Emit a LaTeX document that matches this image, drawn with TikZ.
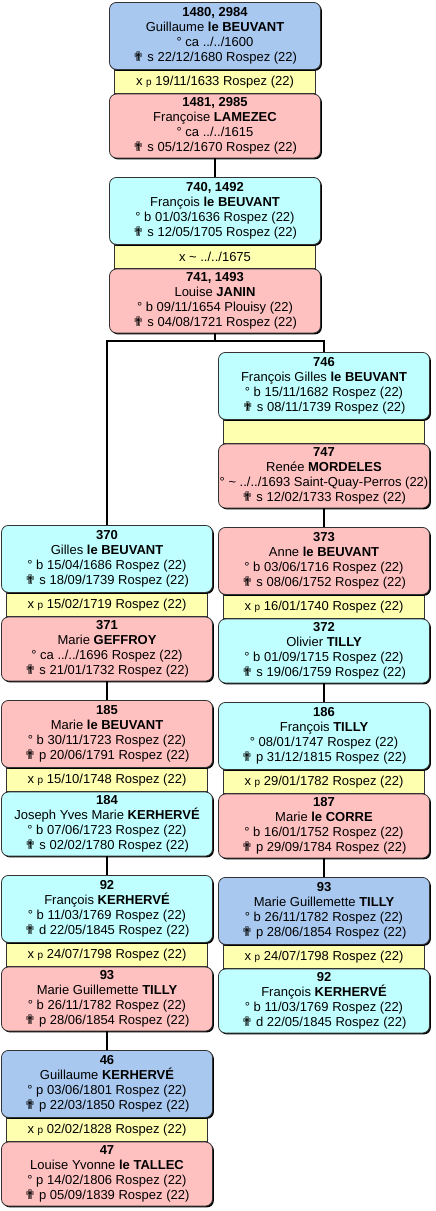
\documentclass[tikz,border=0pt]{standalone}
\usepackage{fontspec}
\setmainfont{Liberation Sans}
\newfontfamily\crossfont{DejaVu Sans}
\usepackage{xcolor}
\usepackage{tikz}
\usetikzlibrary{positioning,shadows,backgrounds}
\definecolor{malebox}{RGB}{192,255,255}
\definecolor{femalebox}{RGB}{255,192,192}
\definecolor{rootbox}{RGB}{168,200,240}
\definecolor{bandbox}{RGB}{255,255,176}
\newcommand{\dcross}{{\crossfont\fontsize{13}{15}\selectfont ✟}}
\newcommand{\wedp}[1]{x {\fontsize{10}{15}\selectfont p} #1}

\begin{document}
\begin{tikzpicture}[x=1pt,y=-1pt]
\tikzstyle{pbox}=[draw=black!80,line width=0.8pt,rounded corners=7pt,minimum width=211pt,minimum height=67pt,inner sep=0pt,align=center,anchor=north,font=\fontsize{13}{15}\selectfont,drop shadow={shadow xshift=1.4pt,shadow yshift=-1.4pt,fill=black,opacity=1}]
\tikzstyle{lbox}=[pbox,minimum height=64pt]
\tikzstyle{band}=[draw=black!80,line width=0.8pt,fill=bandbox,minimum width=201pt,minimum height=23pt,inner sep=0pt,font=\fontsize{13}{15}\selectfont]
\tikzstyle{link}=[line width=1.6pt]
\useasboundingbox (0,0) rectangle (436,1211);

% top generations
\node[pbox,fill=rootbox] (p1480) at (215,2) {\textbf{1480, 2984}\\Guillaume \textbf{le BEUVANT}\\° ca ../../1600\\\dcross{} s 22/12/1680 Rospez (22)};
\begin{scope}[on background layer]
\node[band,below=0pt of p1480] (m1480) {\wedp{19/11/1633 Rospez (22)}};
\end{scope}
\node[lbox,fill=femalebox,below=0pt of m1480] (p1481) {\textbf{1481, 2985}\\Françoise \textbf{LAMEZEC}\\° ca ../../1615\\\dcross{} s 05/12/1670 Rospez (22)};

\node[pbox,fill=malebox] (p740) at (215,177) {\textbf{740, 1492}\\François \textbf{le BEUVANT}\\° b 01/03/1636 Rospez (22)\\\dcross{} s 12/05/1705 Rospez (22)};
\begin{scope}[on background layer]
\node[band,below=0pt of p740] (m740) {x \textasciitilde{} ../../1675};
\end{scope}
\node[lbox,fill=femalebox,below=0pt of m740] (p741) {\textbf{741, 1493}\\Louise \textbf{JANIN}\\° b 09/11/1654 Plouisy (22)\\\dcross{} s 04/08/1721 Rospez (22)};

% right branch
\node[pbox,fill=malebox] (p746) at (324,352) {\textbf{746}\\François Gilles \textbf{le BEUVANT}\\° b 15/11/1682 Rospez (22)\\\dcross{} s 08/11/1739 Rospez (22)};
\begin{scope}[on background layer]
\node[band,below=0pt of p746] (m746) {};
\end{scope}
\node[lbox,fill=femalebox,below=0pt of m746] (p747) {\textbf{747}\\Renée \textbf{MORDELES}\\° \textasciitilde{} ../../1693 Saint-Quay-Perros (22)\\\dcross{} s 12/02/1733 Rospez (22)};

\node[pbox,fill=femalebox] (p373) at (324,527) {\textbf{373}\\Anne \textbf{le BEUVANT}\\° b 03/06/1716 Rospez (22)\\\dcross{} s 08/06/1752 Rospez (22)};
\begin{scope}[on background layer]
\node[band,below=0pt of p373] (m373) {\wedp{16/01/1740 Rospez (22)}};
\end{scope}
\node[lbox,fill=malebox,below=0pt of m373] (p372) {\textbf{372}\\Olivier \textbf{TILLY}\\° b 01/09/1715 Rospez (22)\\\dcross{} s 19/06/1759 Rospez (22)};

\node[pbox,fill=malebox] (p186) at (324,702) {\textbf{186}\\François \textbf{TILLY}\\° 08/01/1747 Rospez (22)\\\dcross{} p 31/12/1815 Rospez (22)};
\begin{scope}[on background layer]
\node[band,below=0pt of p186] (m186) {\wedp{29/01/1782 Rospez (22)}};
\end{scope}
\node[lbox,fill=femalebox,below=0pt of m186] (p187) {\textbf{187}\\Marie \textbf{le CORRE}\\° b 16/01/1752 Rospez (22)\\\dcross{} p 29/09/1784 Rospez (22)};

\node[pbox,fill=rootbox] (r93) at (324,877) {\textbf{93}\\Marie Guillemette \textbf{TILLY}\\° b 26/11/1782 Rospez (22)\\\dcross{} p 28/06/1854 Rospez (22)};
\begin{scope}[on background layer]
\node[band,below=0pt of r93] (mr93) {\wedp{24/07/1798 Rospez (22)}};
\end{scope}
\node[lbox,fill=malebox,below=0pt of mr93] (r92) {\textbf{92}\\François \textbf{KERHERVÉ}\\° b 11/03/1769 Rospez (22)\\\dcross{} d 22/05/1845 Rospez (22)};

% left branch
\node[pbox,fill=malebox] (p370) at (107,525) {\textbf{370}\\Gilles \textbf{le BEUVANT}\\° b 15/04/1686 Rospez (22)\\\dcross{} s 18/09/1739 Rospez (22)};
\begin{scope}[on background layer]
\node[band,below=0pt of p370] (m370) {\wedp{15/02/1719 Rospez (22)}};
\end{scope}
\node[lbox,fill=femalebox,below=0pt of m370] (p371) {\textbf{371}\\Marie \textbf{GEFFROY}\\° ca ../../1696 Rospez (22)\\\dcross{} s 21/01/1732 Rospez (22)};

\node[pbox,fill=femalebox] (p185) at (107,700) {\textbf{185}\\Marie \textbf{le BEUVANT}\\° b 30/11/1723 Rospez (22)\\\dcross{} p 20/06/1791 Rospez (22)};
\begin{scope}[on background layer]
\node[band,below=0pt of p185] (m185) {\wedp{15/10/1748 Rospez (22)}};
\end{scope}
\node[lbox,fill=malebox,below=0pt of m185] (p184) {\textbf{184}\\Joseph Yves Marie \textbf{KERHERVÉ}\\° b 07/06/1723 Rospez (22)\\\dcross{} s 02/02/1780 Rospez (22)};

\node[pbox,fill=malebox] (l92) at (107,875) {\textbf{92}\\François \textbf{KERHERVÉ}\\° b 11/03/1769 Rospez (22)\\\dcross{} d 22/05/1845 Rospez (22)};
\begin{scope}[on background layer]
\node[band,below=0pt of l92] (ml92) {\wedp{24/07/1798 Rospez (22)}};
\end{scope}
\node[lbox,fill=femalebox,below=0pt of ml92] (l93) {\textbf{93}\\Marie Guillemette \textbf{TILLY}\\° b 26/11/1782 Rospez (22)\\\dcross{} p 28/06/1854 Rospez (22)};

\node[pbox,fill=rootbox] (p46) at (107,1050) {\textbf{46}\\Guillaume \textbf{KERHERVÉ}\\° p 03/06/1801 Rospez (22)\\\dcross{} p 22/03/1850 Rospez (22)};
\begin{scope}[on background layer]
\node[band,below=0pt of p46] (m46) {\wedp{02/02/1828 Rospez (22)}};
\end{scope}
\node[lbox,fill=femalebox,below=0pt of m46] (p47) {\textbf{47}\\Louise Yvonne \textbf{le TALLEC}\\° p 14/02/1806 Rospez (22)\\\dcross{} p 05/09/1839 Rospez (22)};

% links
\coordinate (jl) at (107,341);
\coordinate (jr) at (324,341);
\draw[link] (p1481.south) -- (p740.north);
\draw[link] (p741.south) -- (p741.south |- jl);
\draw[link] (p370.north) -- (jl) -- (jr) -- (p746.north);
\draw[link] (p747.south) -- (p373.north);
\draw[link] (p372.south) -- (p186.north);
\draw[link] (p187.south) -- (r93.north);
\draw[link] (p371.south) -- (p185.north);
\draw[link] (p184.south) -- (l92.north);
\draw[link] (l93.south) -- (p46.north);
\end{tikzpicture}
\end{document}
